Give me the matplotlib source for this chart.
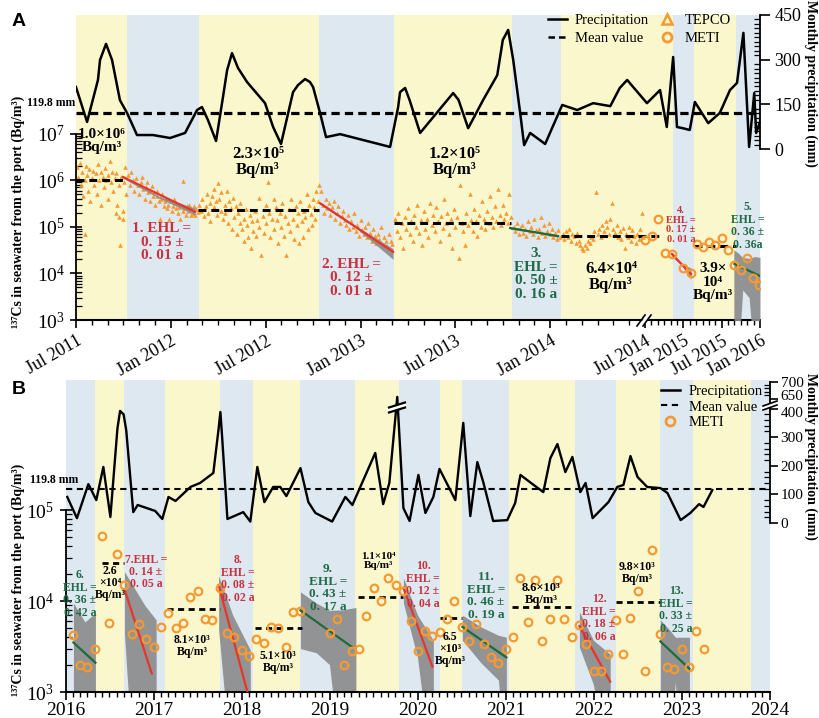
import numpy as np
import matplotlib.pyplot as plt
from matplotlib.ticker import FixedLocator, NullFormatter, LogFormatterMathtext
from matplotlib.lines import Line2D
from matplotlib.transforms import ScaledTranslation

plt.rcParams['font.family'] = ['Liberation Serif', 'DejaVu Serif']
plt.rcParams['mathtext.fontset'] = 'stix'

W, H = 819, 718
ORANGE = '#F59A32'
RED = '#E8352B'
GREEN = '#1D6B38'
RED_TXT = '#C8323F'
GREEN_TXT = '#1F6B46'
YELLOW_BG = '#FBF7CD'
BLUE_BG = '#DEE8F1'
GRAY = '#8A8A8A'

# ================= panel A (months counted from Jul 2011) =================
season_a = [0, 3.2, 7.75, 15.4, 20.1, 27.6, 30.7, 40.4, 43.7, 50.2, 54]

precip_a_month = [0.0, 0.7, 1.39, 1.52, 1.9, 2.28, 2.78, 3.23, 3.86, 4.87, 5.95, 6.9, 7.66, 7.97,
                  8.35, 8.86, 9.3, 9.56, 9.87, 10.25, 10.82, 11.96, 12.47, 12.97, 13.73, 14.05,
                  14.49, 14.8, 15.0, 15.44, 15.82, 16.71, 19.87, 20.38, 20.5, 20.82, 21.1, 21.77,
                  23.5, 23.86, 24.2, 24.81, 25.76, 26.65, 27.0, 27.34, 27.66, 28.1, 28.35, 28.73,
                  29.68, 30.76, 31.71, 32.72, 33.8, 34.4, 34.87, 35.3, 36.3, 38.35, 39.4, 40.4,
                  41.0, 41.9, 43.0, 43.8, 45.9, 47.7, 49.3, 50.4, 51.4, 52.3, 53.1, 53.4, 54.0]
precip_a_mm = [208, 91, 232, 299, 353, 299, 164, 121, 47, 47, 37, 54, 131, 141,
               97, 27, 175, 265, 322, 272, 225, 154, 74, 17, 191, 215,
               235, 225, 208, 121, 40, 50, 7, 141, 191, 205, 165, 54,
               165, 188, 165, 70, 165, 248, 366, 400, 299, 121, 13, 54,
               17, 148, 131, 154, 144, 205, 232, 205, 154, 198, 74, 309,
               74, 70, 64, 158, 87, 121, 198, 222, 390, 7, 188, 54, 91]

tepco_2011_summer = [(0.05, 1.9e6), (0.15, 1.2e6), (0.25, 2.3e6), (0.3, 8e5), (0.4, 1.5e6),
                     (0.45, 4.5e5), (0.55, 1.0e6), (0.6, 7e4), (0.62, 2.0e6), (0.7, 1.3e6),
                     (0.75, 6e5), (0.85, 1.7e6), (0.9, 3.5e5), (1.0, 1.1e6), (1.1, 1.6e6),
                     (1.15, 8e5), (1.25, 1.4e6), (1.3, 5e5), (1.4, 2.2e6), (1.45, 1.0e6),
                     (1.55, 1.5e6), (1.6, 3e5), (1.7, 1.2e6), (1.75, 7e5), (1.85, 1.8e6),
                     (1.9, 1.0e6), (2.0, 4e5), (2.05, 1.3e6), (2.15, 2.6e6), (2.2, 9e5),
                     (2.3, 1.5e6), (2.35, 6e5), (2.45, 1.1e6), (2.5, 2.0e5), (2.55, 1.4e6),
                     (2.6, 3.0e5), (2.7, 8e5), (2.75, 1.6e5), (2.8, 4e4), (2.85, 1.2e6),
                     (2.95, 2.2e5), (3.0, 1.5e5), (3.05, 9e5), (3.1, 1.9e6), (3.15, 5e5)]
tepco_2011_winter = [(3.3, 1.3e6), (3.4, 8e5), (3.5, 1.5e6), (3.6, 1.0e6), (3.7, 6e5), (3.8, 1.1e6),
                     (3.9, 8e5), (4.0, 5e5), (4.1, 9e5), (4.15, 1.2e6), (4.25, 6.5e5), (4.35, 4e5),
                     (4.4, 7e5), (4.5, 9e5), (4.55, 5.5e5), (4.65, 3.5e5), (4.7, 6e5), (4.8, 7.5e5),
                     (4.85, 4.5e5), (4.95, 5.5e5), (5.0, 3e5), (5.1, 4.5e5), (5.15, 6e5), (5.25, 3.5e5),
                     (5.3, 1.5e5), (5.4, 4e5), (5.45, 5e5), (5.55, 2.8e5), (5.6, 3.5e5), (5.7, 4e5),
                     (5.75, 2.5e5), (5.85, 3e5), (5.9, 1.5e5), (6.0, 3.5e5), (6.05, 2.2e5),
                     (6.15, 2.8e5), (6.2, 4e5), (6.3, 2.5e5), (6.35, 3.2e5), (6.45, 2e5), (6.5, 2.6e5),
                     (6.6, 1.5e5), (6.65, 3e5), (6.75, 2.2e5), (6.8, 9.5e5), (6.85, 2.5e5),
                     (6.95, 1.8e5), (7.0, 2.8e5), (7.1, 2.2e5), (7.15, 3e5), (7.25, 1.8e5),
                     (7.3, 2.5e5), (7.4, 2e5), (7.45, 2.8e5), (7.55, 1.8e5), (7.6, 2.4e5), (7.7, 2.1e5)]
tepco_2012 = [(7.8, 3e5), (7.9, 2.2e5), (8.0, 4e5), (8.1, 1.7e5), (8.2, 2.8e5), (8.3, 5e5),
              (8.35, 2e5), (8.45, 3.3e5), (8.5, 1.3e5), (8.6, 4.5e5), (8.7, 6.5e5), (8.75, 2.6e5),
              (8.85, 3.5e5), (8.9, 1.8e5), (9.0, 8.5e5), (9.05, 4e5), (9.15, 2.2e5), (9.2, 5.5e5),
              (9.3, 1.5e5), (9.4, 3e5), (9.45, 2e5), (9.55, 6e5), (9.6, 1.2e5), (9.7, 3.6e5),
              (9.8, 2.5e5), (9.85, 9e4), (9.95, 4.2e5), (10.0, 1.6e5), (10.1, 2.8e5), (10.2, 7e4),
              (10.25, 2e5), (10.35, 1.2e5), (10.4, 3.2e5), (10.5, 9e4), (10.6, 1.5e5), (10.65, 5e4),
              (10.75, 2.4e5), (10.8, 1.1e5), (10.9, 6e4), (11.0, 1.8e5), (11.05, 3.5e4),
              (11.15, 1.3e5), (11.2, 8e4), (11.3, 2.2e5), (11.4, 6.5e4), (11.45, 1.4e5),
              (11.55, 4.2e5), (11.6, 1e5), (11.7, 2.5e4), (11.8, 1.7e5), (11.9, 7.5e4), (12.0, 3e5),
              (12.05, 1.2e5), (12.15, 9e5), (12.2, 2e5), (12.3, 6e4), (12.4, 1.5e5), (12.5, 4e5),
              (12.55, 9e4), (12.65, 2.6e5), (12.7, 1.4e5), (12.8, 4.5e4), (12.9, 2e5), (13.0, 1e5),
              (13.05, 3.3e5), (13.15, 6.5e4), (13.2, 1.7e5), (13.3, 2.5e4), (13.4, 1.2e5),
              (13.45, 2.4e5), (13.55, 8e4), (13.6, 4e5), (13.7, 1.5e5), (13.8, 5.5e4), (13.9, 2.8e5),
              (13.95, 1.1e5), (14.05, 2e5), (14.1, 4.5e4), (14.2, 3.5e5), (14.3, 1.3e5), (14.35, 6e4),
              (14.45, 2.2e5), (14.5, 1.6e5), (14.6, 5e5), (14.7, 9e4), (14.75, 3e5), (14.85, 1.9e5),
              (14.9, 1.1e5), (15.0, 4e5), (15.05, 2.6e5), (15.15, 1.5e5), (15.2, 6e5), (15.3, 3.5e5),
              (15.35, 7.9e5)]
tepco_2012_winter = [(15.5, 6e5), (15.6, 3e5), (15.7, 2e5), (15.8, 4e5), (15.9, 2.5e5), (16.0, 3.2e5),
                     (16.1, 1.8e5), (16.2, 2.6e5), (16.3, 3.5e5), (16.4, 1.5e5), (16.5, 2e5),
                     (16.6, 2.8e5), (16.7, 1.2e5), (16.8, 1.7e5), (16.9, 2.2e5), (17.0, 1.4e5),
                     (17.1, 1.1e5), (17.2, 1.8e5), (17.3, 9e4), (17.4, 1.3e5), (17.5, 1e5), (17.6, 2e5),
                     (17.7, 8e4), (17.8, 1.1e5), (17.9, 6.5e4), (18.0, 1.4e5), (18.1, 8.5e4), (18.2, 7e4),
                     (18.3, 1e5), (18.4, 6e4), (18.5, 1.2e5), (18.6, 7.5e4), (18.7, 5e4), (18.8, 9e4),
                     (18.9, 6.5e4), (19.0, 4.5e4), (19.1, 7e4), (19.2, 5.5e4), (19.3, 1e5), (19.4, 4e4),
                     (19.5, 6e4), (19.6, 5e4), (19.7, 3.8e4), (19.8, 7e4), (19.9, 5e4), (20.0, 4.2e4)]
tepco_2013 = [(20.2, 1.5e5), (20.3, 8e4), (20.4, 2e5), (20.5, 6e4), (20.6, 1.2e5), (20.7, 3.5e4),
              (20.8, 1.6e5), (20.9, 9e4), (21.0, 2.5e5), (21.1, 7e4), (21.2, 1.3e5), (21.3, 5e4),
              (21.4, 1.8e5), (21.5, 1e5), (21.6, 3e5), (21.7, 7.5e4), (21.8, 1.4e5), (21.9, 4e4),
              (22.0, 2.2e5), (22.1, 9e4), (22.2, 1.5e5), (22.3, 6e4), (22.4, 3.2e5), (22.5, 1.1e5),
              (22.6, 1.8e5), (22.7, 8e4), (22.8, 2.6e5), (22.9, 1.3e5), (23.0, 5e4), (23.1, 1.7e5),
              (23.2, 9.5e4), (23.3, 4e5), (23.4, 1.2e5), (23.5, 2e5), (23.6, 7e4), (23.7, 1.5e5),
              (23.8, 3.5e4), (23.9, 2.4e5), (24.0, 1e5), (24.1, 1.6e5), (24.2, 2.1e4), (24.3, 7.9e5),
              (24.4, 1.2e5), (24.5, 8e4), (24.6, 4e4), (24.7, 2e5), (24.8, 1.1e5), (24.9, 5e5),
              (25.0, 1.4e5), (25.1, 8e4), (25.2, 2.4e5), (25.3, 1.3e5), (25.4, 6.5e4), (25.5, 1.8e5),
              (25.6, 1e5), (25.7, 3.5e5), (25.8, 1.5e5), (25.9, 9e4), (26.0, 2.2e5), (26.1, 1.2e5),
              (26.2, 4.5e5), (26.3, 1.6e5), (26.4, 1e5), (26.5, 2.8e5), (26.6, 1.3e5), (26.7, 6.5e5),
              (26.8, 1.8e5), (26.9, 1.1e5), (27.0, 3e5), (27.1, 1.5e5), (27.2, 2e5), (27.3, 1.2e5),
              (27.4, 5e5), (27.5, 1.6e5)]
tepco_2013_winter = [(27.7, 1e5), (27.8, 8e4), (27.9, 1.2e5), (28.0, 7e4), (28.1, 9.5e4), (28.2, 1.1e5),
                     (28.3, 7.5e4), (28.4, 9e4), (28.5, 6.5e4), (28.6, 1.3e5), (28.7, 8e4), (28.8, 1e5),
                     (28.9, 7e4), (29.0, 1.5e5), (29.1, 8.5e4), (29.2, 6e4), (29.3, 9e4), (29.4, 1.6e5),
                     (29.5, 7.5e4), (29.6, 1.1e5), (29.7, 6.5e4), (29.8, 8e4), (29.9, 1.2e5), (30.0, 7e4),
                     (30.1, 9e4), (30.2, 6e4), (30.3, 7.5e4), (30.4, 5.5e4), (30.5, 8.5e4), (30.6, 6e4)]
tepco_2014 = [(30.8, 7e4), (30.9, 5.5e4), (31.0, 8e4), (31.1, 6e4), (31.2, 9e4), (31.3, 5e4),
              (31.4, 7e4), (31.5, 6.5e4), (31.6, 4.5e4), (31.7, 7.5e4), (31.8, 5e4), (31.9, 4e4),
              (32.0, 3.5e4), (32.1, 3.2e4), (32.2, 4e4), (32.3, 3.5e4), (32.4, 5e4), (32.5, 4.5e4),
              (32.6, 6e4), (32.7, 5.5e4), (32.8, 8e4), (32.9, 5.6e5), (33.0, 7e4), (33.1, 9e4),
              (33.2, 6e4), (33.3, 1.1e5), (33.4, 8e4), (33.5, 1.3e5), (33.6, 1e5), (33.7, 7e4),
              (33.8, 1.5e5), (33.9, 3.2e5), (34.0, 9e4), (34.1, 7.5e4), (34.2, 1.1e5), (34.3, 6e4),
              (34.4, 8e4), (34.5, 5.5e4), (34.6, 9.5e4), (34.7, 3.5e4), (34.8, 7e4), (34.9, 6e4),
              (35.0, 1e5), (35.1, 5e4), (35.2, 8.5e4), (35.3, 6.5e4), (35.4, 4.5e4), (35.5, 7e4),
              (35.6, 5.5e4), (35.7, 9e4), (35.8, 2e5), (35.9, 6e4)]

meti_a_month = [36.0, 37.1, 38.0, 39.1, 40.2, 41.9, 43.2, 44.1, 45.1, 46.0, 47.0, 48.1,
                49.0, 49.9, 51.0, 52.0, 52.9, 53.8]
meti_a_bq = [5.2e4, 6.4e4, 1.5e5, 2.7e4, 2.6e4, 1.3e4, 1.0e4, 4.3e4, 3.7e4, 4.7e4, 4.1e4, 5.8e4,
             3.2e4, 1.5e4, 1.2e4, 2.1e4, 8e3, 5.6e3]

mean_a_start = [0.0, 7.7, 20.1, 30.7, 43.7]
mean_a_end = [3.0, 15.4, 27.5, 38.8, 50.3]
mean_a_value = [1.0e6, 2.3e5, 1.2e5, 6.4e4, 3.9e4]

fit_a = [  # months, start/end value, colour
    ([2.97, 7.53], [1.17e6, 2.1e5], RED),
    ([15.44, 20.06], [3.2e5, 2.9e4], RED),
    ([27.47, 30.5], [9.4e4, 6.3e4], GREEN),
    ([40.2, 43.2], [2.6e4, 9.7e3], RED),
    ([50.0, 54.0], [1.6e4, 8.8e3], GREEN),
]
band_a = [  # months, lower, upper
    ([2.97, 5.2, 7.53], [1.1e6, 4.2e5, 1.8e5], [1.25e6, 4.6e5, 2.5e5]),
    ([15.44, 17.7, 20.06], [3.0e5, 9.5e4, 2.0e4], [3.4e5, 1.05e5, 3.4e4]),
    ([27.47, 29.0, 30.5], [8.8e4, 7.5e4, 6.0e4], [1.0e5, 8.0e4, 6.7e4]),
    ([40.2, 41.7, 43.2], [2.3e4, 1.5e4, 7.5e3], [2.9e4, 1.65e4, 1.3e4]),
    ([49.9, 50.5, 51.3, 52.3, 53.2, 54.0], [1e2, 1e2, 4.4e3, 3e3, 1e2, 1e2],
     [3.2e4, 2.8e4, 2.2e4, 2.1e4, 2.3e4, 2.2e4]),
]

tick_a_month = [0, 6, 12, 18, 24, 30, 36, 42, 48, 54]
tick_a_label = ['Jul 2011', 'Jan 2012', 'Jul 2012', 'Jan 2013', 'Jul 2013',
                'Jan 2014', 'Jul 2014', 'Jan 2015', 'Jul 2015', 'Jan 2016']

# ================= panel B (decimal years) =================
season_b = [2016, 2016.33, 2016.67, 2017.13, 2017.75, 2018.13, 2018.67, 2019.29, 2019.79,
            2020.25, 2020.5, 2021.04, 2021.79, 2022.25, 2022.75, 2023.13, 2023.79, 2024]

precip_b_year = [2016.02, 2016.13, 2016.26, 2016.35, 2016.43, 2016.51, 2016.59, 2016.62, 2016.66,
                 2016.69, 2016.77, 2016.82, 2017.02, 2017.10, 2017.17, 2017.25, 2017.42, 2017.53,
                 2017.68, 2017.74, 2017.76, 2017.78, 2017.84, 2018.02, 2018.10, 2018.18, 2018.26,
                 2018.36, 2018.44, 2018.51, 2018.67, 2018.76, 2018.84, 2019.03, 2019.18, 2019.26,
                 2019.52, 2019.61, 2019.68, 2019.77, 2019.84, 2019.91, 2020.01, 2020.09, 2020.18,
                 2020.25, 2020.43, 2020.52, 2020.60, 2020.68, 2020.75, 2020.86, 2021.02, 2021.11,
                 2021.17, 2021.32, 2021.43, 2021.51, 2021.59, 2021.68, 2021.76, 2021.85, 2021.91,
                 2021.99, 2022.17, 2022.27, 2022.34, 2022.42, 2022.50, 2022.61, 2022.76, 2022.84,
                 2022.99, 2023.10, 2023.20, 2023.25, 2023.35]
precip_b_mm = [91, 17, 136, 80, 196, 21, 330, 392, 380,
               325, 38, 63, 42, 14, 91, 77, 126, 140,
               175, 330, 388, 300, 14, 38, 5, 196, 73,
               126, 126, 94, 192, 73, 35, 5, 91, 63,
               245, 66, 140, 655, 52, 7, 168, 35, 91,
               189, 80, 350, 24, 213, 140, 7, 10, 70,
               168, 133, 108, 227, 276, 178, 231, 108, 140,
               17, 73, 126, 133, 234, 161, 126, 122, 105,
               10, 35, 66, 56, 115]

meti_b_year = [2016.09, 2016.16, 2016.24, 2016.34, 2016.42, 2016.49, 2016.59, 2016.67, 2016.75,
               2016.84, 2016.92, 2017.00, 2017.09, 2017.17, 2017.26, 2017.34, 2017.42, 2017.51,
               2017.59, 2017.67, 2017.76, 2017.84, 2017.92, 2018.01, 2018.09, 2018.17, 2018.26,
               2018.34, 2018.42, 2018.51, 2018.59, 2018.67, 2019.01, 2019.09, 2019.17, 2019.26,
               2019.34, 2019.42, 2019.51, 2019.59, 2019.67, 2019.76, 2019.84, 2019.93, 2020.01,
               2020.09, 2020.17, 2020.26, 2020.34, 2020.42, 2020.51, 2020.59, 2020.67, 2020.76,
               2020.84, 2020.92, 2021.01, 2021.09, 2021.17, 2021.26, 2021.34, 2021.42, 2021.51,
               2021.59, 2021.67, 2021.76, 2021.84, 2021.92, 2022.01, 2022.09, 2022.17, 2022.26,
               2022.34, 2022.42, 2022.51, 2022.59, 2022.67, 2022.76, 2022.84, 2022.92, 2023.01,
               2023.09, 2023.17, 2023.26]
meti_b_bq = [4.2e3, 2.0e3, 1.9e3, 3.0e3, 5.2e4, 5.7e3, 3.3e4, 1.5e4, 4.3e3,
             5.6e3, 3.8e3, 3.1e3, 5.2e3, 7.4e3, 5.0e3, 5.8e3, 1.1e4, 1.3e4,
             6.3e3, 6.2e3, 1.4e4, 4.4e3, 4.0e3, 2.9e3, 2.5e3, 3.8e3, 3.5e3,
             5.2e3, 5.1e3, 3.1e3, 7.6e3, 7.8e3, 4.4e3, 6.3e3, 2.0e3, 2.8e3,
             3.0e3, 6.8e3, 1.4e4, 1.0e4, 1.8e4, 1.5e4, 1.3e4, 6.0e3, 2.8e3,
             4.7e3, 4.1e3, 4.6e3, 6.3e3, 1.0e4, 5.2e3, 3.6e3, 5.6e3, 3.4e3,
             2.4e3, 2.1e3, 3.0e3, 4.0e3, 1.8e4, 5.9e3, 1.7e4, 3.6e3, 6.3e3,
             1.7e4, 6.3e3, 4.0e3, 5.5e3, 3.4e3, 1.7e3, 1.7e3, 2.6e3, 6.2e3,
             2.6e3, 6.5e3, 1.3e4, 1.7e3, 3.6e4, 4.3e3, 1.9e3, 1.8e3, 3.0e3,
             1.9e3, 4.7e3, 3.0e3]

mean_b_start = [2016.42, 2017.15, 2018.15, 2019.32, 2020.25, 2021.07, 2022.25]
mean_b_end = [2016.67, 2017.75, 2018.69, 2019.84, 2020.51, 2021.77, 2022.76]
mean_b_value = [2.6e4, 8.1e3, 5.1e3, 1.1e4, 6.5e3, 8.6e3, 9.8e3]

fit_b = [
    ([2016.09, 2016.34], [3.5e3, 2.1e3], GREEN),
    ([2016.67, 2016.98], [1.35e4, 1.6e3], RED),
    ([2017.74, 2018.08], [1.5e4, 9e2], RED),
    ([2018.67, 2019.26], [7.9e3, 3.1e3], GREEN),
    ([2019.84, 2020.17], [1.4e4, 1.9e3], RED),
    ([2020.51, 2021.01], [5.2e3, 2.4e3], GREEN),
    ([2021.84, 2022.19], [5.3e3, 1.3e3], RED),
    ([2022.76, 2023.09], [3.6e3, 1.8e3], GREEN),
]
band_b = [
    ([2016.09, 2016.22, 2016.34], [1e2, 1e2, 1e2], [9.5e3, 5.9e3, 7.4e3]),
    ([2016.67, 2016.78, 2016.9, 2017.03], [4.3e3, 1e2, 1e2, 1e2], [2.1e4, 1.4e4, 9e3, 6.2e3]),
    ([2017.74, 2017.9, 2018.1], [4.8e3, 1e2, 1e2], [1.9e4, 7e3, 2.9e3]),
    ([2018.67, 2018.85, 2019.0, 2019.15, 2019.3], [3.0e3, 2.7e3, 2.0e3, 1e2, 1e2],
     [1.26e4, 9.5e3, 7.9e3, 8e3, 8.5e3]),
    ([2019.84, 2020.0, 2020.18], [9.5e3, 2.4e3, 1e2], [1.8e4, 7e3, 3.7e3]),
    ([2020.51, 2020.72, 2020.92, 2021.01], [3.7e3, 2.1e3, 1.35e3, 1e2], [7.0e3, 5.2e3, 4.2e3, 4.0e3]),
    ([2021.84, 2022.0, 2022.19], [3.1e3, 1.2e3, 1e2], [7.6e3, 3.7e3, 2.6e3]),
    ([2022.76, 2022.85, 2022.93, 2023.0, 2023.09], [1e2, 1e2, 1.3e3, 1e2, 1e2],
     [6.2e3, 5e3, 4e3, 4e3, 4e3]),
]

tick_b_year = list(range(2016, 2025))


def tx(m):
    # axis after Jul 2014 is compressed
    m = np.asarray(m, float)
    return np.where(m <= 36, m, 36 + (m - 36) * 0.404)


def tp(p):
    # broken precipitation axis in panel B (400 -> 650)
    return np.interp(p, [0, 400, 650, 700], [0, 400, 435, 494])


fig = plt.figure(figsize=(W / 100, H / 100), dpi=100)


def box(x0, y0, x1, y1):
    return [x0 / W, 1 - y1 / H, (x1 - x0) / W, (y1 - y0) / H]


def ftxt(x, y, s, **kw):
    fig.text(x / W, 1 - y / H, s, ha='center', va='center', **kw)


def fline(xs, ys, **kw):
    fig.add_artist(Line2D([x / W for x in xs], [1 - y / H for y in ys],
                          transform=fig.transFigure, **kw))


def style_log_axis(ax, top_exp):
    ax.set_yscale('log')
    ax.yaxis.set_major_locator(FixedLocator([10.0 ** e for e in range(3, top_exp + 1)]))
    ax.yaxis.set_major_formatter(LogFormatterMathtext())
    ax.yaxis.set_minor_locator(FixedLocator([k * 10.0 ** e for e in range(3, top_exp)
                                             for k in range(2, 10)]))
    ax.yaxis.set_minor_formatter(NullFormatter())
    ax.tick_params(axis='y', which='major', direction='inout', length=9, width=1.2, labelsize=14)
    ax.tick_params(axis='y', which='minor', direction='in', length=4, width=0.9)
    ax.spines['top'].set_visible(False)
    ax.spines['right'].set_visible(False)
    ax.spines['left'].set_bounds(1e3, 10.0 ** top_exp)
    ax.spines['left'].set_linewidth(1.3)
    ax.spines['bottom'].set_linewidth(1.5)


# ---------------- panel A ----------------
ax_a = fig.add_axes(box(76, 15, 760, 320))
style_log_axis(ax_a, 7)
ax_a.set_ylim(1e3, 10 ** 9.545)
ax_a.set_xlim(0, float(tx(54)))
for i in range(len(season_a) - 1):
    ax_a.axvspan(float(tx(season_a[i])), float(tx(season_a[i + 1])),
                 color=YELLOW_BG if i % 2 == 0 else BLUE_BG, lw=0, zorder=0)

tepco = (tepco_2011_summer + tepco_2011_winter + tepco_2012 + tepco_2012_winter
         + tepco_2013 + tepco_2013_winter + tepco_2014)
t_m = [p[0] for p in tepco]
t_v = [p[1] for p in tepco]
ax_a.scatter(tx(t_m), t_v, marker='^', s=11, color=ORANGE, lw=0, zorder=2)

for xs, lo, hi in band_a:
    ax_a.fill_between(tx(xs), lo, hi, color=GRAY, lw=0, alpha=0.9, zorder=3)
for xs, vs, c in fit_a:
    ax_a.plot(tx(xs), vs, color=c, lw=1.6, zorder=4)
for s, e, v in zip(mean_a_start, mean_a_end, mean_a_value):
    ax_a.plot(tx([s, e]), [v, v], color='k', lw=2.2, ls=(0, (2.6, 1.6)), zorder=4)
ax_a.plot(tx(meti_a_month), meti_a_bq, ls='none', marker='o', ms=5.5, mfc='none',
          mec=ORANGE, mew=1.6, zorder=5)

ax_a.set_xticks(tx(tick_a_month))
ax_a.set_xticklabels(tick_a_label, rotation=30, ha='right', rotation_mode='anchor')
ax_a.xaxis.set_minor_locator(FixedLocator(tx(np.arange(0, 55))))
ax_a.tick_params(axis='x', which='major', direction='out', length=6, width=1.2, labelsize=13, pad=3)
ax_a.tick_params(axis='x', which='minor', direction='out', length=3.5, width=1.0)

pa = ax_a.twinx()
pa.set_ylim(-574, 450)
pa.plot(tx(precip_a_month), precip_a_mm, color='k', lw=1.8, zorder=5)
pa.axhline(119.8, color='k', lw=2.3, ls=(0, (2.6, 1.6)))
for s in ['top', 'left', 'bottom']:
    pa.spines[s].set_visible(False)
pa.spines['right'].set_bounds(0, 450)
pa.spines['right'].set_linewidth(1.3)
pa.yaxis.set_major_locator(FixedLocator([0, 150, 300, 450]))
pa.yaxis.set_minor_locator(FixedLocator(list(range(0, 451, 15))))
pa.tick_params(axis='y', which='major', direction='out', length=7, width=1.2, labelsize=13)
pa.tick_params(axis='y', which='minor', direction='in', length=4, width=0.9)

leg_a = [Line2D([], [], color='k', lw=1.8),
         Line2D([], [], color='k', lw=1.8, ls=(0, (2.6, 1.6))),
         Line2D([], [], ls='none', marker='^', ms=6.5, mfc='none', mec=ORANGE, mew=1.8),
         Line2D([], [], ls='none', marker='o', ms=6.5, mfc='none', mec=ORANGE, mew=2)]
pa.legend(leg_a, ['Precipitation', 'Mean value', 'TEPCO', 'METI'], ncol=2, frameon=False,
          loc='upper left', bbox_to_anchor=(548 / W, 1 - 14 / H), bbox_transform=fig.transFigure,
          fontsize=10.5, handlelength=1.3, handletextpad=0.55, columnspacing=0.6,
          labelspacing=0.3, borderpad=0, borderaxespad=0)

# ---------------- panel B ----------------
ax_b = fig.add_axes(box(65.5, 380, 769.5, 692))
style_log_axis(ax_b, 5)
ax_b.set_ylim(1e3, 10 ** 6.43)
ax_b.set_xlim(2016, 2024)
for i in range(len(season_b) - 1):
    ax_b.axvspan(season_b[i], season_b[i + 1], color=BLUE_BG if i % 2 == 0 else YELLOW_BG,
                 lw=0, zorder=0)
for xs, lo, hi in band_b:
    ax_b.fill_between(xs, lo, hi, color=GRAY, lw=0, alpha=0.9, zorder=2)
for xs, vs, c in fit_b:
    ax_b.plot(xs, vs, color=c, lw=1.6, zorder=3)
for s, e, v in zip(mean_b_start, mean_b_end, mean_b_value):
    ax_b.plot([s, e], [v, v], color='k', lw=2.0, ls=(0, (2.2, 1.6)), zorder=3)
ax_b.plot(meti_b_year, meti_b_bq, ls='none', marker='o', ms=5.5, mfc='none',
          mec=ORANGE, mew=1.6, zorder=4)
ax_b.set_xticks(tick_b_year)
ax_b.xaxis.set_minor_locator(FixedLocator(np.arange(2016, 2024.01, 1 / 12)))
ax_b.tick_params(axis='x', which='major', direction='out', length=6, width=1.2, labelsize=14, pad=1)
ax_b.tick_params(axis='x', which='minor', direction='out', length=3.5, width=1.0)

pb = ax_b.twinx()
pb.set_ylim(-591, 500)
pb.plot(precip_b_year, tp(precip_b_mm), color='k', lw=1.7, zorder=5)
pb.axhline(119.8, color='k', lw=1.5, ls=(0, (3, 2.2)))
for s in ['top', 'left', 'bottom']:
    pb.spines[s].set_visible(False)
pb.spines['right'].set_bounds(0, 494)
pb.spines['right'].set_linewidth(1.3)
pb.yaxis.set_major_locator(FixedLocator(tp([0, 100, 200, 300, 400, 650, 700])))
pb.set_yticklabels(['0', '100', '200', '300', '400', '650', '700'])
pb.yaxis.set_minor_locator(FixedLocator(list(range(20, 400, 20)) + list(tp([660, 670, 680, 690]))))
pb.tick_params(axis='y', which='major', direction='out', length=6, width=1.2, labelsize=11, pad=2)
pb.tick_params(axis='y', which='minor', direction='in', length=4, width=0.9)
# spread the crowded labels around the axis break a little
for lab, dy in zip(pb.get_yticklabels()[4:6], [-2.5, 2.5]):
    lab.set_transform(lab.get_transform() + ScaledTranslation(0, dy / 72, fig.dpi_scale_trans))

leg_b = [Line2D([], [], color='k', lw=1.8),
         Line2D([], [], color='k', lw=1.5, ls=(0, (3, 2.2))),
         Line2D([], [], ls='none', marker='o', ms=6.5, mfc='none', mec=ORANGE, mew=2)]
pb.legend(leg_b, ['Precipitation', 'Mean value', 'METI'], frameon=False,
          loc='upper left', bbox_to_anchor=(661 / W, 1 - 385 / H), bbox_transform=fig.transFigure,
          fontsize=10.5, handlelength=1.3, handletextpad=0.6, labelspacing=0.15,
          borderpad=0, borderaxespad=0)

# ---------------- axis breaks ----------------
fline([641, 649], [326, 315], color='white', lw=3, zorder=10)
fline([637, 645], [326, 315], color='k', lw=1.2, zorder=11)
fline([643, 651], [326, 315], color='k', lw=1.2, zorder=11)
fline([763, 777], [408, 403], color='white', lw=3, zorder=10)
fline([763, 777], [406, 401], color='k', lw=1.2, zorder=11)
fline([763, 777], [410, 405], color='k', lw=1.2, zorder=11)
fline([389, 405], [410, 405], color='white', lw=2.5, zorder=10)
fline([389, 405], [407.5, 402.5], color='k', lw=1.6, zorder=11)
fline([389, 405], [412.5, 407.5], color='k', lw=1.6, zorder=11)

# ---------------- text ----------------
ftxt(19, 21, 'A', family='Liberation Sans', fontweight='bold', fontsize=14)
ftxt(19, 389, 'B', family='Liberation Sans', fontweight='bold', fontsize=14)
ylab = '¹³⁷Cs in seawater from the port (Bq/m³)'
ftxt(18, 212, ylab, rotation=90, fontsize=10, fontweight='bold')
ftxt(18, 580, ylab, rotation=90, fontsize=10, fontweight='bold')
ftxt(811, 83, 'Monthly precipitation (mm)', rotation=270, fontsize=10, fontweight='bold')
ftxt(811, 456, 'Monthly precipitation (mm)', rotation=270, fontsize=10, fontweight='bold')
ftxt(51, 103, '119.8 mm', fontsize=8.5, fontweight='bold')
ftxt(54, 480, '119.8 mm', fontsize=8.5, fontweight='bold')

bold = dict(fontweight='bold', linespacing=1.05)
ftxt(102, 141, '1.0×10⁶\nBq/m³', fontsize=11, **bold)
ftxt(258, 162, '2.3×10⁵\nBq/m³', fontsize=12, **bold)
ftxt(455, 162, '1.2×10⁵\nBq/m³', fontsize=12, **bold)
ftxt(611, 277, '6.4×10⁴\nBq/m³', fontsize=12, **bold)
ftxt(713, 282, '3.9×\n10⁴\nBq/m³', fontsize=11, **bold)
ftxt(162, 242, '1. EHL =\n0. 15 ±\n0. 01 a', fontsize=11, color=RED_TXT, **bold)
ftxt(351, 278, '2. EHL =\n0. 12 ±\n0. 01 a', fontsize=11, color=RED_TXT, **bold)
ftxt(536, 274, '3.\nEHL =\n0. 50 ±\n0. 16 a', fontsize=11, color=GREEN_TXT, **bold)
ftxt(681, 225, '4.\nEHL =\n0. 17 ±\n0. 01 a', fontsize=7.5, color=RED_TXT, **bold)
ftxt(748, 226, '5.\nEHL =\n0. 36 ±\n0. 36a', fontsize=8.5, color=GREEN_TXT, **bold)

ftxt(80, 594, '6.\nEHL =\n0. 36 ±\n0. 42 a', fontsize=8.5, color=GREEN_TXT, **bold)
ftxt(110, 583, '2.6\n×10⁴\nBq/m³', fontsize=8.5, **bold)
ftxt(146, 572, '7.EHL =\n0. 14 ±\n0. 05 a', fontsize=8.5, color=RED_TXT, **bold)
ftxt(238, 579, '8.\nEHL =\n0. 08 ±\n0. 02 a', fontsize=8.5, color=RED_TXT, **bold)
ftxt(192, 646, '8.1×10³\nBq/m³', fontsize=8.5, **bold)
ftxt(278, 662, '5.1×10³\nBq/m³', fontsize=8.5, **bold)
ftxt(328, 588, '9.\nEHL =\n0. 43 ±\n0. 17 a', fontsize=9.5, color=GREEN_TXT, **bold)
ftxt(378, 561, '1.1×10⁴\nBq/m³', fontsize=8, **bold)
ftxt(423, 585, '10.\nEHL =\n0. 12 ±\n0. 04 a', fontsize=8.5, color=RED_TXT, **bold)
ftxt(450, 649, '6.5\n×10³\nBq/m³', fontsize=8.5, **bold)
ftxt(486, 596, '11.\nEHL =\n0. 46 ±\n0. 19 a', fontsize=9.5, color=GREEN_TXT, **bold)
ftxt(541, 594, '8.6×10³\nBq/m³', fontsize=9, **bold)
ftxt(599, 618, '12.\nEHL =\n0. 18 ±\n0. 06 a', fontsize=8.5, color=RED_TXT, **bold)
ftxt(637, 573, '9.8×10³\nBq/m³', fontsize=8.5, **bold)
ftxt(676, 610, '13.\nEHL =\n0. 33 ±\n0. 25 a', fontsize=8.5, color=GREEN_TXT, **bold)

fig.savefig('out.png', dpi=100)
